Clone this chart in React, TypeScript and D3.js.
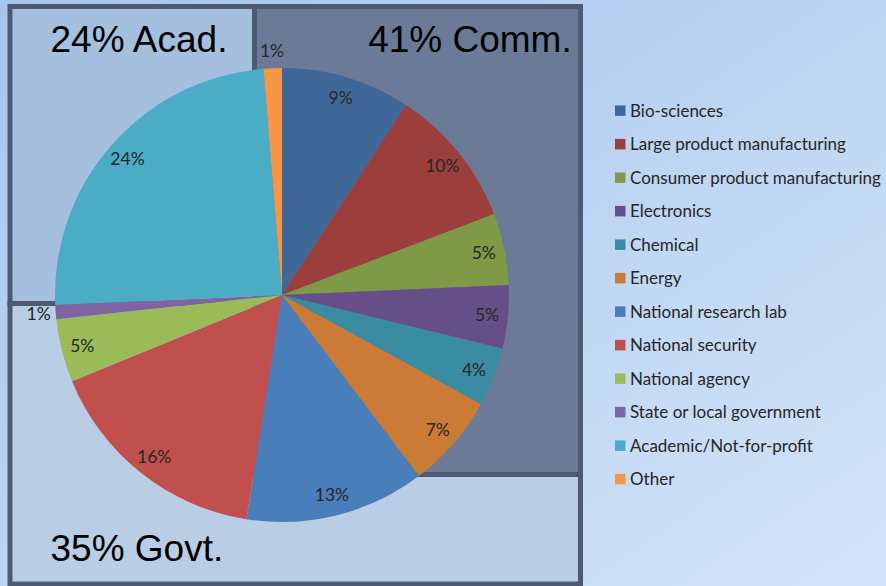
import React from "react";
import * as d3 from "d3";

const categories = [
  "Bio-sciences",
  "Large product manufacturing",
  "Consumer product manufacturing",
  "Electronics",
  "Chemical",
  "Energy",
  "National research lab",
  "National security",
  "National agency",
  "State or local government",
  "Academic/Not-for-profit",
  "Other",
];
const values = [9.2, 10.0, 5.1, 4.5, 4.2, 6.7, 12.8, 16.3, 4.5, 1.0, 24.4, 1.3];
const labels = ["9%", "10%", "5%", "5%", "4%", "7%", "13%", "16%", "5%", "1%", "24%", "1%"];
const outsideLabel = [false, false, false, false, false, false, false, false, false, true, false, true];
const colors = [
  "#3f6899", "#9c3f3c", "#7f9a47", "#664f88", "#3a8ca2", "#cc7b37",
  "#4a7ebb", "#c0504d", "#9bbb59", "#8064a2", "#4bacc6", "#f79646",
];
const groupTitles = ["24% Acad.", "41% Comm.", "35% Govt."];

const W = 886;
const H = 586;
const cx = 282;
const cy = 295;
const R = 227;

export default function App() {
  const pie = d3.pie<number>().sort(null).startAngle(0).endAngle(2 * Math.PI)(values);
  const arc = d3.arc<d3.PieArcDatum<number>>().innerRadius(0).outerRadius(R);
  const inArc = d3.arc<d3.PieArcDatum<number>>().innerRadius(206).outerRadius(206);
  const outArc = d3.arc<d3.PieArcDatum<number>>().innerRadius(244).outerRadius(244);
  const legendY = d3.scaleLinear().domain([0, 1]).range([110.7, 144.2]);
  const border = "#4e5a74";
  const bodyFont = "Lato, 'Open Sans', sans-serif";
  const titleFont = "'Liberation Sans', Arial, sans-serif";

  return (
    <div style={{ position: "absolute", left: 0, top: 0 }}>
      <svg width={W} height={H} style={{ display: "block" }}>
        <defs>
          <linearGradient id="bg" x1="0" y1="0" x2="1" y2="1">
            <stop offset="0" stopColor="#a7c6ee" />
            <stop offset="1" stopColor="#d3e3f7" />
          </linearGradient>
        </defs>
        <rect x={0} y={0} width={W} height={H} fill="url(#bg)" />
        {/* group boxes */}
        <rect x={10} y={303.5} width={570.5} height={280.5} fill="#b9cde5" stroke={border} strokeWidth={5} />
        <rect x={10} y={6.5} width={244.5} height={297} fill="#a5bfdf" stroke={border} strokeWidth={5} />
        <rect x={254.5} y={6.5} width={326} height={468} fill="#6b7a97" stroke={border} strokeWidth={5} />
        <text x={50.5} y={52.3} fontFamily={titleFont} fontSize={37} fill="#000">{groupTitles[0]}</text>
        <text x={571.7} y={51.7} textAnchor="end" fontFamily={titleFont} fontSize={37} fill="#000">{groupTitles[1]}</text>
        <text x={50.5} y={561} fontFamily={titleFont} fontSize={37} fill="#000">{groupTitles[2]}</text>
        {/* pie */}
        <g transform={`translate(${cx},${cy})`}>
          {pie.map((d, i) => (
            <path key={i} d={arc(d) || ""} fill={colors[i]} />
          ))}
          {pie.map((d, i) => {
            const [x, y] = (outsideLabel[i] ? outArc : inArc).centroid(d);
            return (
              <text key={"l" + i} x={x} y={y} dy="0.35em" textAnchor="middle" fontFamily={bodyFont} fontSize={17.5} fill="#262626">
                {labels[i]}
              </text>
            );
          })}
        </g>
        {/* legend */}
        {categories.map((c, i) => (
          <g key={"g" + i} transform={`translate(615,${legendY(i)})`}>
            <rect x={0} y={-5.3} width={10.5} height={10.5} fill={colors[i]} />
            <text x={15} y={0} dy="0.35em" fontFamily={bodyFont} fontSize={17} fill="#262626">{c}</text>
          </g>
        ))}
      </svg>
    </div>
  );
}
